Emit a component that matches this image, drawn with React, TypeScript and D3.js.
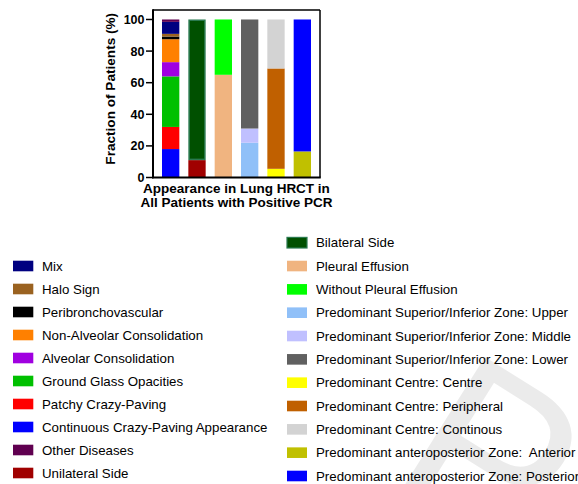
import React from "react";
import * as d3 from "d3";

// ---- data ----
const groups = ["Lesion", "Side", "Effusion", "SupInf", "Centre", "AntPost"];

// series in stacking order (bottom -> top within each bar)
const seriesNames = [
  "Continuous Crazy-Paving Appearance",
  "Patchy Crazy-Paving",
  "Ground Glass Opacities",
  "Alveolar Consolidation",
  "Non-Alveolar Consolidation",
  "Peribronchovascular",
  "Halo Sign",
  "Mix",
  "Other Diseases",
  "Unilateral Side",
  "Bilateral Side",
  "Pleural Effusion",
  "Without Pleural Effusion",
  "Predominant Superior/Inferior Zone: Upper",
  "Predominant Superior/Inferior Zone: Middle",
  "Predominant Superior/Inferior Zone: Lower",
  "Predominant Centre: Centre",
  "Predominant Centre: Peripheral",
  "Predominant Centre: Continous",
  "Predominant anteroposterior Zone:  Anterior",
  "Predominant anteroposterior Zone: Posterior",
];
const seriesGroup = [0, 0, 0, 0, 0, 0, 0, 0, 0, 1, 1, 2, 2, 3, 3, 3, 4, 4, 4, 5, 5];
const seriesValues = [18, 14, 32, 9, 14.5, 1.7, 1.7, 7.6, 1.5, 11, 89, 65, 35, 22, 9, 69, 5.5, 63.5, 31, 16.5, 83.5];

const palette: Record<string, string> = {
  "Mix": "#000080",
  "Halo Sign": "#9a6220",
  "Peribronchovascular": "#000000",
  "Non-Alveolar Consolidation": "#ff8000",
  "Alveolar Consolidation": "#a000e0",
  "Ground Glass Opacities": "#00c000",
  "Patchy Crazy-Paving": "#ff0000",
  "Continuous Crazy-Paving Appearance": "#0000ff",
  "Other Diseases": "#600050",
  "Unilateral Side": "#a00000",
  "Bilateral Side": "#005000",
  "Pleural Effusion": "#f0b480",
  "Without Pleural Effusion": "#00ff00",
  "Predominant Superior/Inferior Zone: Upper": "#90c0f8",
  "Predominant Superior/Inferior Zone: Middle": "#c0c0ff",
  "Predominant Superior/Inferior Zone: Lower": "#606060",
  "Predominant Centre: Centre": "#ffff00",
  "Predominant Centre: Peripheral": "#c06000",
  "Predominant Centre: Continous": "#d3d3d3",
  "Predominant anteroposterior Zone:  Anterior": "#c0c000",
  "Predominant anteroposterior Zone: Posterior": "#0000ff",
};
const outlines: Record<string, string> = {
  "Bilateral Side": "#2a7a50",
};

const legendLeft = [
  "Mix",
  "Halo Sign",
  "Peribronchovascular",
  "Non-Alveolar Consolidation",
  "Alveolar Consolidation",
  "Ground Glass Opacities",
  "Patchy Crazy-Paving",
  "Continuous Crazy-Paving Appearance",
  "Other Diseases",
  "Unilateral Side",
];
const legendRight = [
  "Bilateral Side",
  "Pleural Effusion",
  "Without Pleural Effusion",
  "Predominant Superior/Inferior Zone: Upper",
  "Predominant Superior/Inferior Zone: Middle",
  "Predominant Superior/Inferior Zone: Lower",
  "Predominant Centre: Centre",
  "Predominant Centre: Peripheral",
  "Predominant Centre: Continous",
  "Predominant anteroposterior Zone:  Anterior",
  "Predominant anteroposterior Zone: Posterior",
];

const yTicks = [0, 20, 40, 60, 80, 100];
const yTitle = "Fraction of Patients (%)";
const xTitle = ["Appearance in Lung HRCT in", "All Patients with Positive PCR"];
const watermark = "P";

// ---- layout ----
const W = 578;
const H = 484;
const plotLeft = 153;
const plotRight = 320;
const plotTop = 10;
const plotBottom = 177.5;
const font = "'Liberation Sans', Arial, sans-serif";

export default function App() {
  const x = d3.scaleBand<number>().domain(groups.map((_, i) => i)).range([plotLeft, plotRight]).paddingInner(0.342).paddingOuter(0.342);
  const y = d3.scaleLinear().domain([0, 106]).range([plotBottom, plotTop]);

  // stacked segments
  const base: number[] = groups.map(() => 0);
  const segs = seriesNames.map((name, i) => {
    const g = seriesGroup[i];
    const y0 = base[g];
    const y1 = y0 + seriesValues[i];
    base[g] = y1;
    return { name, g, y0, y1 };
  });

  return (
    <svg width={W} height={H} style={{ position: "absolute", left: 0, top: 0, background: "#fff" }} fontFamily={font}>
      <rect x={0} y={0} width={W} height={H} fill="#fff" />
      {/* watermark */}
      <text
        transform="translate(385,481) rotate(32)"
        fontSize={230}
        fill="#ebebeb"
        fontFamily={font}
      >
        {watermark}
      </text>

      {/* bars */}
      {segs.map((s, i) => {
        const ol = outlines[s.name];
        const bw = x.bandwidth();
        return (
          <rect
            key={i}
            x={(x(s.g) as number) + (ol ? 0.75 : 0)}
            y={y(s.y1) + (ol ? 0.75 : 0)}
            width={bw - (ol ? 1.5 : 0)}
            height={y(s.y0) - y(s.y1) - (ol ? 1.5 : 0)}
            fill={palette[s.name]}
            stroke={ol || "none"}
            strokeWidth={ol ? 1.5 : 0}
          />
        );
      })}

      {/* frame */}
      <line x1={plotLeft} x2={plotRight} y1={plotTop} y2={plotTop} stroke="#000" strokeWidth={1.5} />
      <line x1={plotRight} x2={plotRight} y1={plotTop} y2={plotBottom} stroke="#000" strokeWidth={1.5} />
      <line x1={plotLeft} x2={plotLeft} y1={plotTop - 0.75} y2={plotBottom + 0.75} stroke="#000" strokeWidth={2} />
      <line x1={plotLeft - 1} x2={plotRight + 0.75} y1={plotBottom} y2={plotBottom} stroke="#000" strokeWidth={2} />

      {/* y ticks */}
      {yTicks.map((t) => (
        <g key={t}>
          <line x1={plotLeft - 7} x2={plotLeft} y1={y(t)} y2={y(t)} stroke="#000" strokeWidth={1.5} />
          <text x={plotLeft - 8.5} y={y(t) + 4.5} textAnchor="end" fontSize={12.5} fontWeight="bold" fill="#000">
            {t}
          </text>
        </g>
      ))}

      {/* y title */}
      <text
        transform={`translate(114.5,${(plotTop + plotBottom) / 2 - 5}) rotate(-90)`}
        textAnchor="middle"
        fontSize={13.6}
        fontWeight="bold"
        fill="#000"
      >
        {yTitle}
      </text>

      {/* x title */}
      {xTitle.map((l, i) => (
        <text key={i} x={(plotLeft + plotRight) / 2} y={192.5 + i * 14.8} textAnchor="middle" fontSize={13.5} fontWeight="bold" fill="#000">
          {l}
        </text>
      ))}

      {/* legends */}
      {legendLeft.map((n, i) => {
        const cy = 266 + i * 23;
        return (
          <g key={n}>
            <rect x={13} y={cy - 5.3} width={20.3} height={10.6} fill={palette[n]} stroke={outlines[n] || "none"} strokeWidth={1.2} />
            <text x={42} y={cy + 4.7} fontSize={13.3} fill="#000">
              {n}
            </text>
          </g>
        );
      })}
      {legendRight.map((n, i) => {
        const cy = 242.7 + i * 23.33;
        return (
          <g key={n}>
            <rect x={287} y={cy - 5.3} width={20} height={10.6} fill={palette[n]} stroke={outlines[n] || "none"} strokeWidth={1.2} />
            <text x={316} y={cy + 4.7} fontSize={13.3} fill="#000" style={{ whiteSpace: "pre" }}>
              {n}
            </text>
          </g>
        );
      })}
    </svg>
  );
}
